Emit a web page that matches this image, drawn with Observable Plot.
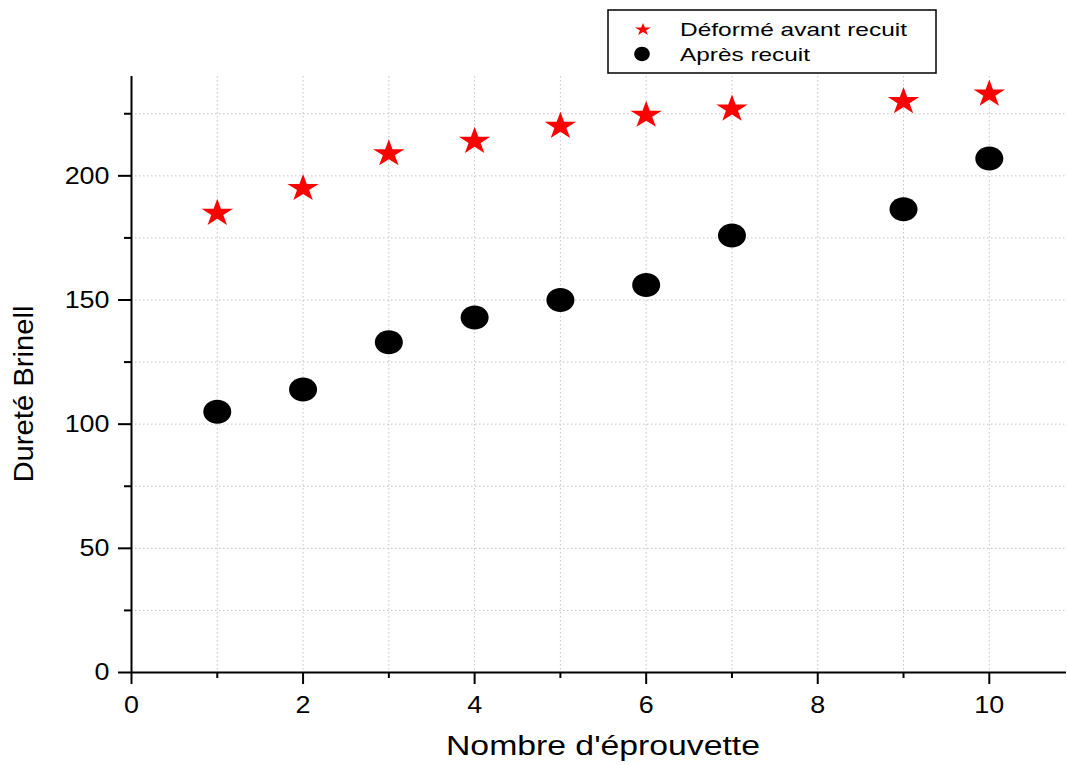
<!DOCTYPE html>
<html><head><meta charset="utf-8">
<script src="https://cdn.jsdelivr.net/npm/d3@7"></script>
<script src="https://cdn.jsdelivr.net/npm/@observablehq/plot@0.6"></script>
<style>
body{margin:0;background:#fff;}
#wrap{position:relative;width:1067px;height:765px;font-family:"Liberation Sans",Arial,sans-serif;}
#legend{position:absolute;left:607px;top:9px;}
</style></head><body><div id="wrap"></div>
<script>
// ---- data ----
const specimens = [1, 2, 3, 4, 5, 6, 7, 9, 10];
const avantRecuit = [185.5, 195.5, 209.5, 214.5, 220.5, 225, 227.5, 230.5, 233.5];
const apresRecuit = [105, 114, 133, 143, 150, 156, 176, 186.5, 207];
const seriesNames = ["Déformé avant recuit", "Après recuit"];
const seriesColors = ["#ff0000", "#000000"];
const yMajorTicks = [0, 50, 100, 150, 200];
const yMinorTicks = [25, 75, 125, 175, 225];
const xMajorTicks = [0, 2, 4, 6, 8, 10];
const xMinorTicks = [1, 3, 5, 7, 9];
const yGridValues = [25, 50, 75, 100, 125, 150, 175, 200, 225];
const xGridValues = [1, 2, 3, 4, 5, 6, 7, 8, 9, 10];
const xTitle = "Nombre d'éprouvette";
const yTitle = "Dureté Brinell";

// ---- custom symbols ----
function starSymbol(sx) {
  return {draw(ctx, size) {
    const R = Math.sqrt(size / Math.PI), ri = R * 0.381966, off = 0.0955 * R;
    for (let i = 0; i < 10; i++) {
      const a = i * Math.PI / 5, r = i % 2 ? ri : R;
      const x = Math.sin(a) * r * sx, y = -Math.cos(a) * r + off;
      i ? ctx.lineTo(x, y) : ctx.moveTo(x, y);
    }
    ctx.closePath();
  }};
}
function ellipseSymbol(ratio) {
  return {draw(ctx, size) {
    const rx = Math.sqrt(size / Math.PI), ry = rx * ratio, k = 0.5523;
    ctx.moveTo(rx, 0);
    ctx.bezierCurveTo(rx, ry * k, rx * k, ry, 0, ry);
    ctx.bezierCurveTo(-rx * k, ry, -rx, ry * k, -rx, 0);
    ctx.bezierCurveTo(-rx, -ry * k, -rx * k, -ry, 0, -ry);
    ctx.bezierCurveTo(rx * k, -ry, rx, -ry * k, rx, 0);
    ctx.closePath();
  }};
}
const star = starSymbol(1.14);
const ellipse = ellipseSymbol(0.857);

const font = "'Liberation Sans', Arial, sans-serif";
const gridStyle = {stroke: "#c4c4c4", strokeOpacity: 1, strokeWidth: 1, strokeDasharray: "1.5,2.5"};

const plot = Plot.plot({
  width: 1067,
  height: 765,
  marginLeft: 131,
  marginRight: 1,
  marginTop: 76,
  marginBottom: 93,
  x: {domain: [0, 10.9]},
  y: {domain: [0, 240]},
  style: {fontFamily: font, background: "white", color: "black"},
  marks: [
    Plot.gridY(yGridValues, gridStyle),
    Plot.gridX(xGridValues, gridStyle),
    Plot.axisY(yMajorTicks, {tickSize: 13, tickPadding: 9, fontSize: 24, strokeWidth: 2, label: null, tickFormat: d => String(d)}),
    Plot.ruleY(yMinorTicks, {x1: 0, x2: 0, insetLeft: -7, stroke: "black", strokeWidth: 2}),
    Plot.axisX(xMajorTicks, {tickSize: 12, tickPadding: 11, fontSize: 24, strokeWidth: 2, label: null, tickFormat: d => String(d)}),
    Plot.ruleX(xMinorTicks, {y1: 0, y2: 0, insetBottom: -6, stroke: "black", strokeWidth: 2}),
    Plot.ruleX([0], {stroke: "black", strokeWidth: 2}),
    Plot.ruleY([0], {stroke: "black", strokeWidth: 2}),
    Plot.dot(specimens, {x: d => d, y: (d, i) => apresRecuit[i], symbol: ellipse, r: 14, fill: seriesColors[1], stroke: null}),
    Plot.dot(specimens, {x: d => d, y: (d, i) => avantRecuit[i], symbol: star, r: 14.5, fill: seriesColors[0], stroke: null}),
    Plot.text([xTitle], {frameAnchor: "bottom", lineAnchor: "bottom", dx: 4, dy: 82, fontSize: 27, fill: "black"}),
    Plot.text([yTitle], {frameAnchor: "left", textAnchor: "middle", lineAnchor: "bottom", rotate: -90, dx: -99, dy: 19.5, fontSize: 28.5, fill: "black"})
  ]
});

const wrap = document.getElementById("wrap");
wrap.appendChild(plot);

const tickLabels = new Set([...yMajorTicks, ...xMajorTicks].map(String));
d3.select(plot).selectAll("text").each(function() {
  const t = this.textContent;
  if (t === xTitle) {
    d3.select(this).attr("textLength", 314).attr("lengthAdjust", "spacingAndGlyphs");
  } else if (t === yTitle) {
    d3.select(this).attr("textLength", 177).attr("lengthAdjust", "spacingAndGlyphs");
  } else if (tickLabels.has(t)) {
    const w = this.getComputedTextLength();
    d3.select(this).attr("textLength", w * 1.12).attr("lengthAdjust", "spacingAndGlyphs");
  }
});

// ---- legend ----
const lg = d3.create("svg").attr("id", "legend").attr("width", 331).attr("height", 66);
lg.append("rect").attr("x", 1).attr("y", 1).attr("width", 328).attr("height", 63)
  .attr("fill", "white").attr("stroke", "black").attr("stroke-width", 1.5);
const legendSymbols = [
  d3.symbol(starSymbol(1.29), Math.PI * 6.5 * 6.5)(),
  d3.symbol(ellipseSymbol(0.92), Math.PI * 7.8 * 7.8)()
];
const legendRows = [{sx: 36, sy: 20, ty: 27, w: 227}, {sx: 35, sy: 45, ty: 51.5, w: 130}];
seriesNames.forEach((name, i) => {
  const row = legendRows[i];
  lg.append("path").attr("d", legendSymbols[i]).attr("fill", seriesColors[i])
    .attr("transform", `translate(${row.sx},${row.sy})`);
  lg.append("text").attr("x", 73).attr("y", row.ty).attr("font-family", font).attr("font-size", 19)
    .attr("fill", "black").attr("textLength", row.w).attr("lengthAdjust", "spacingAndGlyphs").text(name);
});
wrap.appendChild(lg.node());
</script></body></html>
